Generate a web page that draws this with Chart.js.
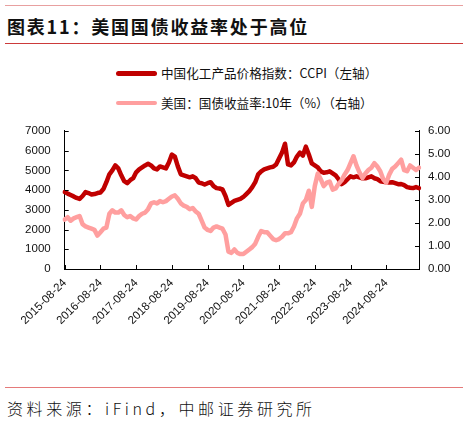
<!DOCTYPE html>
<html>
<head>
<meta charset="utf-8">
<script src="https://cdn.jsdelivr.net/npm/chart.js@4"></script>
<style>
  body { margin: 0; background: #fff; width: 468px; height: 422px; position: relative; overflow: hidden;
         font-family: "Noto Sans CJK SC", "Liberation Sans", sans-serif; color: #111; }
  .rule { position: absolute; left: 5px; width: 458px; }
  #title { position: absolute; left: 7px; top: 13px; font-size: 18px; font-weight: bold; letter-spacing: 1.8px; line-height: 26px; }
  #source { position: absolute; left: 7px; top: 396px; font-size: 16px; font-weight: 300; letter-spacing: 3.6px; line-height: 24px; }
  .leg { position: absolute; left: 116px; font-size: 12.6px; line-height: 16px; }
  .leg i { position: absolute; left: 0; top: 6px; width: 41px; height: 4.5px; border-radius: 3px; }
  .leg span { position: absolute; left: 45px; top: 0; white-space: nowrap; }
  #wrap { position: absolute; left: 0; top: 110px; width: 468px; height: 270px; }
</style>
</head>
<body>
<div class="rule" style="top:4.5px;height:1.2px;background:#e8a0a0"></div>
<div id="title">图表11：美国国债收益率处于高位</div>
<div class="rule" style="top:42.5px;height:1.4px;background:#cc3a3a"></div>

<div class="leg" style="top:65px"><i style="background:#c00000"></i><span>中国化工产品价格指数：CCPI（左轴）</span></div>
<div class="leg" style="top:94.5px"><i style="background:#ff9f9f"></i><span>美国：国债收益率:10年（%）（右轴）</span></div>

<div id="wrap"><canvas id="c"></canvas></div>

<div class="rule" style="top:386.5px;height:1.4px;background:#e57a7a"></div>
<div id="source">资料来源：iFind，中邮证券研究所</div>

<script>
// monthly points, 2015-08 .. 2025-07
const firstYear = 2015, firstMonth = 8, pointCount = 120;
const months = [];
for (let i = 0; i < pointCount; i++) {
  const m = firstMonth - 1 + i;
  const y = firstYear + Math.floor(m / 12);
  const mm = (m % 12) + 1;
  months.push(y + "-" + String(mm).padStart(2, "0") + "-24");
}

// 中国化工产品价格指数 CCPI (left axis)
const ccpi = [
  3900, 3820, 3750, 3680, 3600, 3550, 3700, 3900, 3850, 3780, 3800, 3850,
  3880, 4050, 4400, 4800, 5000, 5250, 5100, 4750, 4450, 4350, 4500, 4600,
  4900, 5050, 5150, 5250, 5330, 5250, 5100, 5050, 5200, 5150, 5100, 5400,
  5800, 5700, 5200, 4800, 4750, 4700, 4650, 4700, 4600, 4380, 4350, 4280,
  4350, 4400, 4200, 4100, 4080, 4030, 3700, 3250, 3350, 3450, 3500, 3550,
  3650, 3800, 3950, 4150, 4400, 4800, 4950, 5050, 5100, 5150, 5180, 5300,
  5600, 5900, 6350, 5300, 5250, 5400, 5700, 5900, 5750, 6200, 5800, 5350,
  5250, 5150, 4950, 4880, 4900, 4950, 4850, 4750, 4550, 4300, 4400, 4550,
  4700, 4650, 4700, 4650, 4600, 4600, 4650, 4700, 4600, 4550, 4450, 4420,
  4400, 4380, 4400, 4350, 4300, 4310, 4250, 4150, 4120, 4100, 4150, 4100
];

// 美国 10年国债收益率 % (right axis)
const ust10y = [
  2.15, 2.25, 2.10, 2.20, 2.25, 2.30, 1.95, 1.85, 1.80, 1.75, 1.70, 1.45,
  1.60, 1.75, 1.80, 2.40, 2.55, 2.45, 2.45, 2.55, 2.35, 2.25, 2.30, 2.20,
  2.15, 2.30, 2.40, 2.45, 2.60, 2.85, 2.90, 2.85, 2.95, 2.90, 2.95, 3.05,
  3.15, 3.20, 3.05, 2.85, 2.75, 2.70, 2.60, 2.65, 2.50, 2.40, 2.10, 1.80,
  1.70, 1.65, 1.80, 1.85, 1.80, 1.75, 1.50, 0.75, 0.70, 0.85, 0.70, 0.65,
  0.65, 0.75, 0.85, 0.95, 1.10, 1.40, 1.65, 1.60, 1.60, 1.45, 1.30, 1.25,
  1.30, 1.40, 1.55, 1.55, 1.60, 1.85, 2.20, 2.40, 2.85, 3.00, 3.40, 2.70,
  3.60, 4.15, 3.90, 3.60, 3.75, 3.80, 3.45, 3.50, 3.70, 3.85, 4.10, 4.30,
  4.60, 4.90, 4.50, 4.20, 3.95, 4.15, 4.30, 4.40, 4.60, 4.45, 4.25, 3.90,
  3.75, 4.10, 4.35, 4.45, 4.60, 4.75, 4.30, 4.25, 4.50, 4.40, 4.30, 4.40
];

const leftTicks = [0, 7000, 1000];   // min, max, step
const rightTicks = [0, 6, 1];

Chart.defaults.font.family = "'Liberation Sans', Arial, sans-serif";
Chart.defaults.font.size = 11.5;
Chart.defaults.color = "#111";

// short tick marks pointing into the plot
const innerTicks = {
  id: "innerTicks",
  afterDraw(chart) {
    const ctx = chart.ctx;
    const a = chart.chartArea;
    ctx.save();
    ctx.strokeStyle = "#000";
    ctx.lineWidth = 1;
    ctx.beginPath();
    const yl = chart.scales.y;
    yl.ticks.forEach((t, i) => {
      const p = Math.round(yl.getPixelForTick(i)) + 0.5;
      ctx.moveTo(a.left, p); ctx.lineTo(a.left + 4, p);
    });
    const yr = chart.scales.y1;
    yr.ticks.forEach((t, i) => {
      const p = Math.round(yr.getPixelForTick(i)) + 0.5;
      ctx.moveTo(a.right - 4, p); ctx.lineTo(a.right, p);
    });
    const xs = chart.scales.x;
    xs.ticks.forEach((t, i) => {
      if (!months[t.value].includes("-08-")) return;
      const p = Math.round(xs.getPixelForTick(i)) + 0.5;
      ctx.moveTo(p, a.bottom); ctx.lineTo(p, a.bottom - 4);
    });
    ctx.stroke();
    ctx.restore();
  }
};

new Chart(document.getElementById("c"), {
  type: "line",
  data: {
    labels: months,
    datasets: [
      {
        label: "中国化工产品价格指数：CCPI（左轴）",
        data: ccpi,
        yAxisID: "y",
        borderColor: "#c00000",
        borderWidth: 4.5,
        pointRadius: 0,
        tension: 0,
        order: 1
      },
      {
        label: "美国：国债收益率:10年（%）（右轴）",
        data: ust10y,
        yAxisID: "y1",
        borderColor: "#ff9f9f",
        borderWidth: 4.5,
        pointRadius: 0,
        tension: 0,
        order: 0
      }
    ]
  },
  options: {
    responsive: true,
    maintainAspectRatio: false,
    animation: false,
    layout: { padding: { top: 16, left: 0, right: 0, bottom: 0 } },
    plugins: { legend: { display: false }, tooltip: { enabled: false } },
    elements: { line: { borderJoinStyle: "round", borderCapStyle: "round" } },
    scales: {
      x: {
        type: "category",
        grid: { display: false, drawTicks: false },
        border: { display: true, color: "#000", width: 1 },
        ticks: {
          autoSkip: false,
          maxRotation: 45,
          minRotation: 45,
          padding: 7,
          callback: function (v) {
            const s = months[v];
            return s.includes("-08-") ? s : null;
          }
        },
        afterFit: (s) => { s.height = 111; }
      },
      y: {
        position: "left",
        min: leftTicks[0],
        max: leftTicks[1],
        grid: { display: false, drawTicks: false },
        border: { display: true, color: "#000", width: 1 },
        ticks: { stepSize: leftTicks[2], padding: 14, callback: (v) => String(v) },
        afterFit: (s) => { s.width = 64.7; }
      },
      y1: {
        position: "right",
        min: rightTicks[0],
        max: rightTicks[1],
        grid: { display: false, drawTicks: false },
        border: { display: true, color: "#000", width: 1 },
        ticks: { stepSize: rightTicks[2], padding: 9, callback: (v) => v.toFixed(2) },
        afterFit: (s) => { s.width = 49; }
      }
    }
  },
  plugins: [innerTicks]
});
</script>
</body>
</html>
